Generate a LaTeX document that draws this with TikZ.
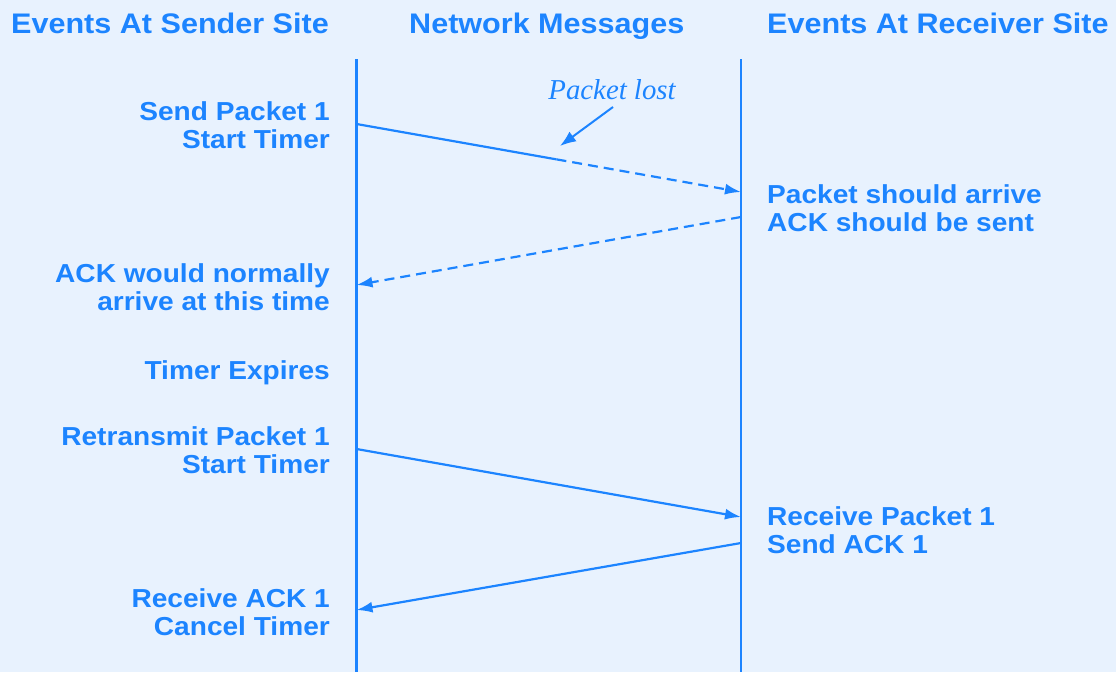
\documentclass[tikz,border=0pt]{standalone}
\usepackage{fontspec}
\setmainfont{Liberation Sans}
\newfontfamily\evfont{Liberation Sans}[FakeStretch=1.08]
\newfontfamily\notefont{Liberation Serif}
\usetikzlibrary{arrows.meta,calc}
\definecolor{seqblue}{RGB}{28,132,255}
\definecolor{seqbg}{RGB}{232,242,254}

\begin{document}
\begin{tikzpicture}[x=1pt,y=-1pt,
  header/.style={font=\evfont\bfseries\fontsize{28.3}{30}\selectfont,
    text=seqblue, inner sep=0pt, anchor=base west},
  sendev/.style={font=\evfont\bfseries\fontsize{26}{28}\selectfont,
    text=seqblue, inner sep=0pt, align=right, anchor=north east},
  recvev/.style={font=\evfont\bfseries\fontsize{26}{28}\selectfont,
    text=seqblue, inner sep=0pt, align=left, anchor=north west},
  note/.style={font=\notefont\itshape\fontsize{28.8}{30}\selectfont,
    text=seqblue, inner sep=0pt, anchor=base},
  lifeline/.style={draw=seqblue, line width=2.2pt},
  tip/.style={-{Latex[length=16pt,width=11pt]}},
  msg/.style={draw=seqblue, line width=2.2pt},
  lostmsg/.style={msg, dash pattern=on 10pt off 6pt},
]
% background and page size
\fill[seqbg] (0,0) rectangle (1116,672);
\useasboundingbox (0,0) rectangle (1116,672);

% column headings
\node[header] (hsend) at (11,33) {Events At Sender Site};
\node[header] (hnet)  at (409,33) {Network Messages};
\node[header] (hrecv) at (767,33) {Events At Receiver Site};

% lifelines
\coordinate (stop) at (356.5,59);
\coordinate (sbot) at (356.5,672);
\coordinate (rtop) at (741,59);
\coordinate (rbot) at (741,672);
\draw[lifeline] (stop) -- (sbot);
\draw[lifeline] (rtop) -- (rbot);

% message end points on the lifelines
\coordinate (s1) at (356.5,124);
\coordinate (r1) at (741,192);
\coordinate (r2) at (741,217);
\coordinate (s2) at (356.5,285);
\coordinate (s3) at (356.5,449);
\coordinate (r3) at (741,517);
\coordinate (r4) at (741,543);
\coordinate (s4) at (356.5,610);
\coordinate (lost) at ($(s1)!0.52!(r1)$);

% sender events
\node[sendev] (send1)  at (330,101.4) {Send Packet 1\\Start Timer};
\node[sendev] (ackexp) at (330,263.7) {ACK would normally\\arrive at this time};
\node[sendev] (expire) at (330,360.4) {Timer Expires};
\node[sendev] (resend) at (330,426.4) {Retransmit Packet 1\\Start Timer};
\node[sendev] (gotack) at (330,588.1) {Receive ACK 1\\Cancel Timer};

% receiver events
\node[recvev] (arrive) at (767,184.7) {Packet should arrive\\ACK should be sent};
\node[recvev] (recv1)  at (767,506.4) {Receive Packet 1\\Send ACK 1};

% first transmission, lost on the way
\draw[msg] (s1) -- (lost);
\draw[lostmsg, tip] (lost) -- (r1);
\draw[lostmsg, tip] (r2) -- (s2);

% annotation
\node[note] (lostlbl) at (612,99) {Packet lost};
\coordinate (lostfrom) at (613,107);
\coordinate (lostto) at (560,146);
\draw[msg, line width=2pt, -{Latex[length=16pt,width=12pt]}] (lostfrom) -- (lostto);

% retransmission and acknowledgement
\draw[msg, tip] (s3) -- (r3);
\draw[msg, tip] (r4) -- (s4);
\end{tikzpicture}
\end{document}
